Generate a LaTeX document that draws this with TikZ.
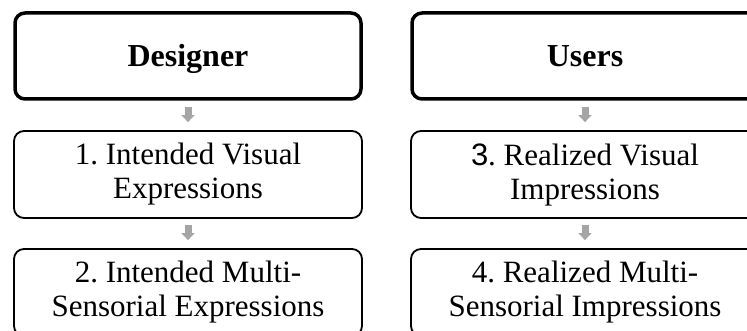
\documentclass[tikz,border=0pt]{standalone}
\usepackage{fontspec}
\setmainfont{Liberation Serif}
\newfontfamily\digitsans{Liberation Sans}
\usetikzlibrary{arrows.meta}
\definecolor{arrowgray}{HTML}{A5A5A5}
\frenchspacing
\begin{document}
\begin{tikzpicture}[x=1pt,y=-1pt,
  box/.style={draw=black, line width=1.8pt, rounded corners=10pt,
    minimum width=348pt, minimum height=87pt, inner sep=0pt,
    align=center, font=\fontsize{31}{34}\selectfont},
  headbox/.style={box, line width=3.5pt, minimum width=346pt,
    minimum height=86pt, text height=22pt, text depth=1pt,
    font=\fontsize{32}{36}\selectfont\bfseries},
  flow/.style={draw=arrowgray, line width=7pt,
    -{Triangle[width=13pt,length=7pt]}}]
  \useasboundingbox (0,0) rectangle (747,331);
  \clip (0,0) rectangle (747,331);

  % designer column
  \node[headbox] (des) at (188,56) {Designer};
  \node[box] (ivis) at (188,174.5) {1. Intended Visual\\Expressions};
  \node[box] (imul) at (188,292.5) {2. Intended Multi-\\Sensorial Expressions};

  % users column
  \node[headbox] (usr) at (585,56) {Users};
  \node[box] (rvis) at (585,174.5) {{\digitsans 3}. Realized Visual\\Impressions};
  \node[box] (rmul) at (585,292.5) {4. Realized Multi-\\Sensorial Impressions};

  % flow arrows
  \foreach \a/\b in {des/ivis, ivis/imul, usr/rvis, rvis/rmul}
    \draw[flow] ([yshift=-6pt]\a.south) -- ([yshift=8pt]\b.north);
\end{tikzpicture}
\end{document}
